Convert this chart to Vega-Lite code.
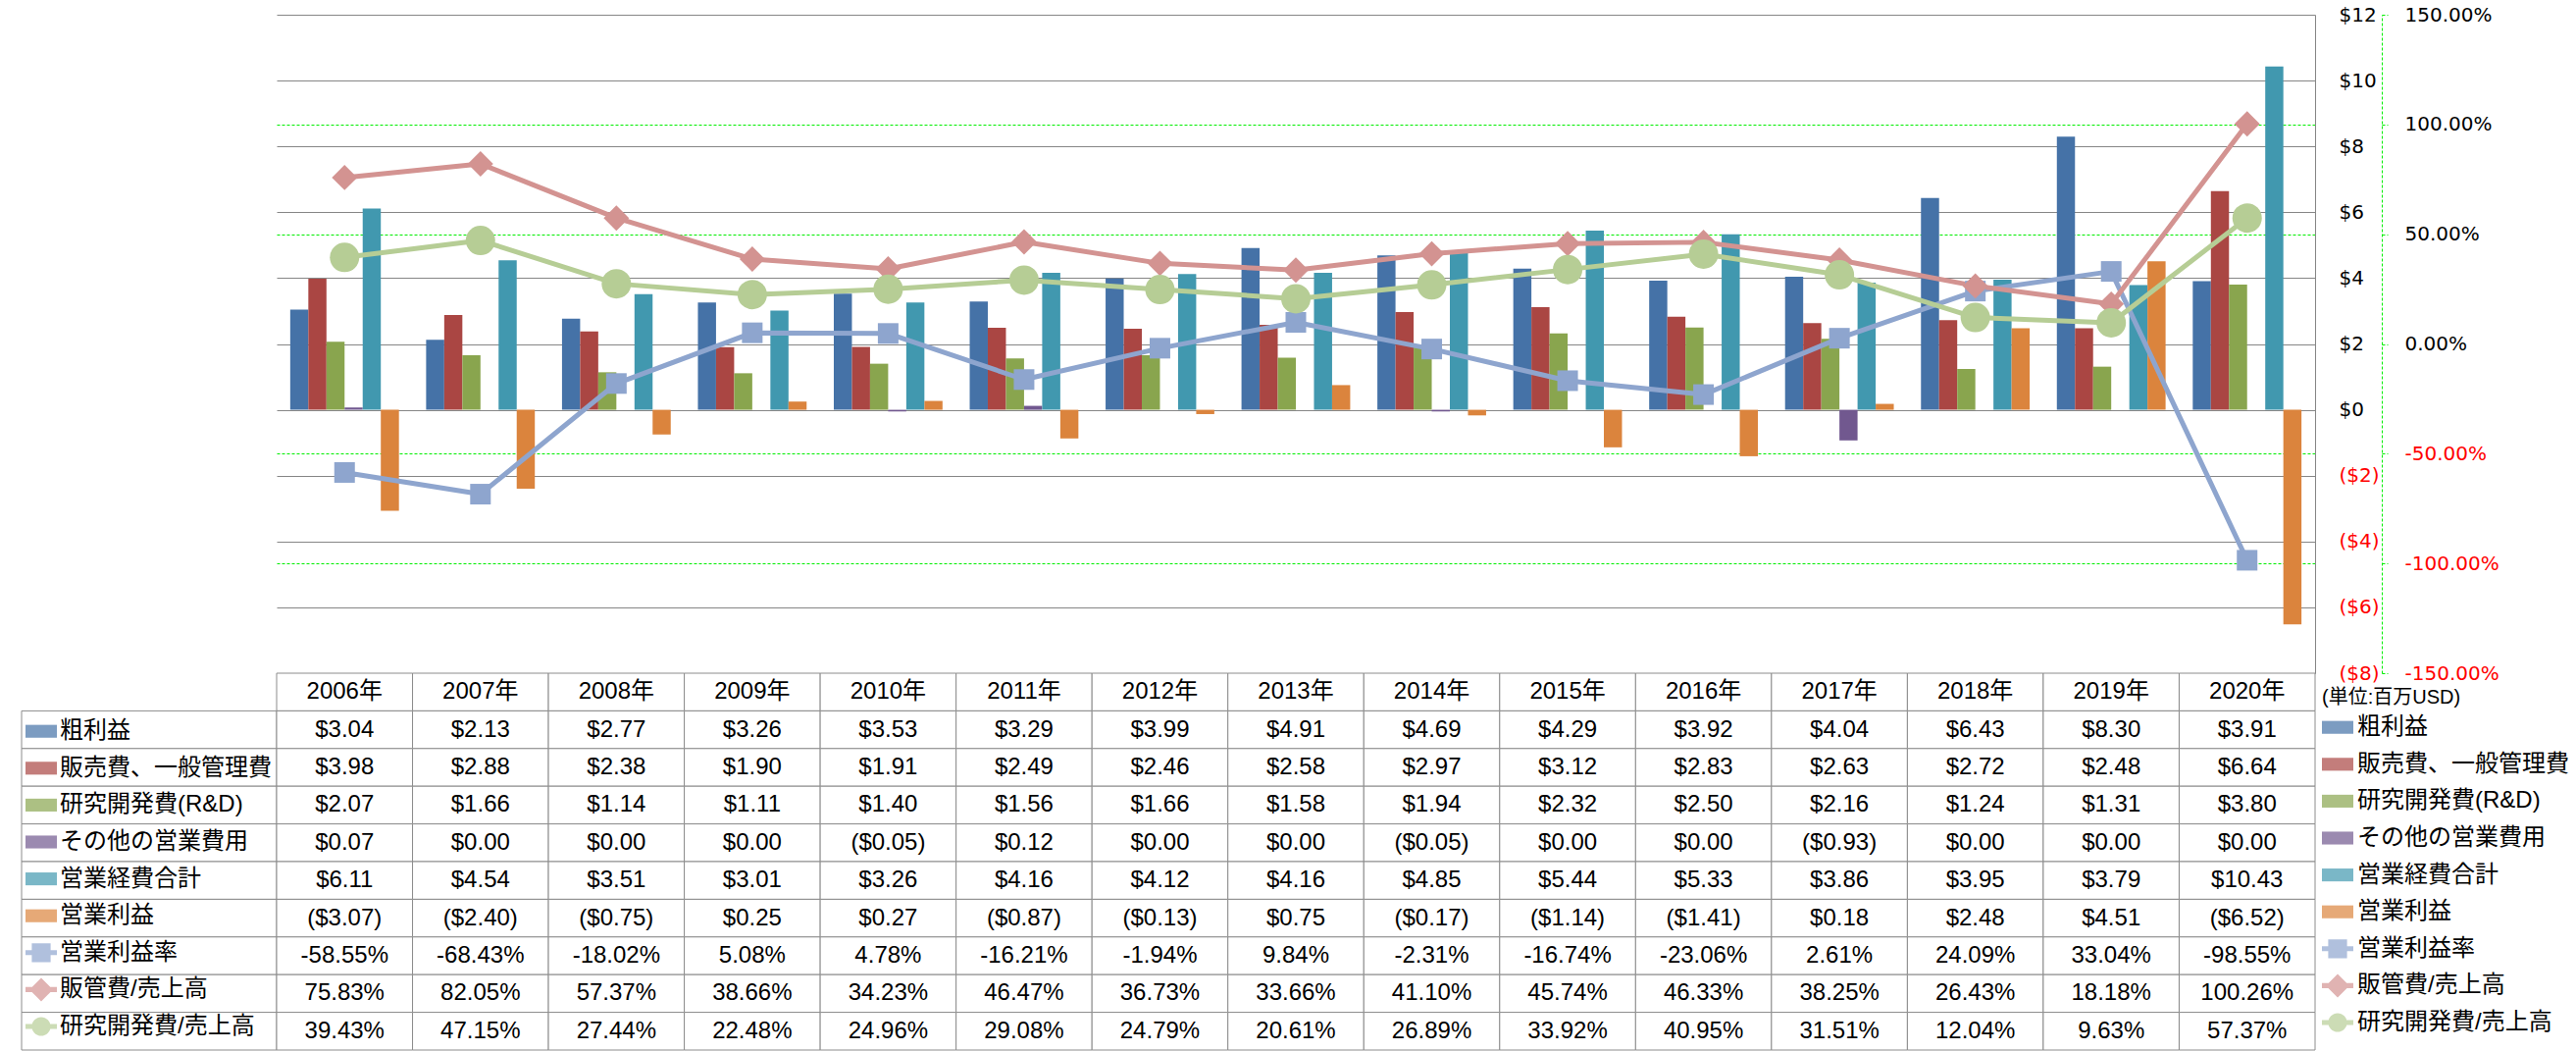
{
  "$schema": "https://vega.github.io/schema/vega-lite/v6.json",
  "background": "white",
  "padding": {"left": 21, "top": 5, "right": 0, "bottom": 0},
  "config": {
    "locale": {"number": {"decimal": ".", "thousands": ",", "grouping": [3], "currency": ["$", ""], "minus": "-"}},
    "view": {"stroke": null},
    "axis": {"labelFont": "DejaVu Sans"}
  },
  "datasets": {
    "yrs": [
      {"year": "2006年", "粗利益": 3.04, "販売費、一般管理費": 3.98, "研究開発費(R&D)": 2.07, "その他の営業費用": 0.07, "営業経費合計": 6.11, "営業利益": -3.07, "営業利益率": -0.5855, "販管費/売上高": 0.7583, "研究開発費/売上高": 0.3943},
      {"year": "2007年", "粗利益": 2.13, "販売費、一般管理費": 2.88, "研究開発費(R&D)": 1.66, "その他の営業費用": 0.00, "営業経費合計": 4.54, "営業利益": -2.40, "営業利益率": -0.6843, "販管費/売上高": 0.8205, "研究開発費/売上高": 0.4715},
      {"year": "2008年", "粗利益": 2.77, "販売費、一般管理費": 2.38, "研究開発費(R&D)": 1.14, "その他の営業費用": 0.00, "営業経費合計": 3.51, "営業利益": -0.75, "営業利益率": -0.1802, "販管費/売上高": 0.5737, "研究開発費/売上高": 0.2744},
      {"year": "2009年", "粗利益": 3.26, "販売費、一般管理費": 1.90, "研究開発費(R&D)": 1.11, "その他の営業費用": 0.00, "営業経費合計": 3.01, "営業利益": 0.25, "営業利益率": 0.0508, "販管費/売上高": 0.3866, "研究開発費/売上高": 0.2248},
      {"year": "2010年", "粗利益": 3.53, "販売費、一般管理費": 1.91, "研究開発費(R&D)": 1.40, "その他の営業費用": -0.05, "営業経費合計": 3.26, "営業利益": 0.27, "営業利益率": 0.0478, "販管費/売上高": 0.3423, "研究開発費/売上高": 0.2496},
      {"year": "2011年", "粗利益": 3.29, "販売費、一般管理費": 2.49, "研究開発費(R&D)": 1.56, "その他の営業費用": 0.12, "営業経費合計": 4.16, "営業利益": -0.87, "営業利益率": -0.1621, "販管費/売上高": 0.4647, "研究開発費/売上高": 0.2908},
      {"year": "2012年", "粗利益": 3.99, "販売費、一般管理費": 2.46, "研究開発費(R&D)": 1.66, "その他の営業費用": 0.00, "営業経費合計": 4.12, "営業利益": -0.13, "営業利益率": -0.0194, "販管費/売上高": 0.3673, "研究開発費/売上高": 0.2479},
      {"year": "2013年", "粗利益": 4.91, "販売費、一般管理費": 2.58, "研究開発費(R&D)": 1.58, "その他の営業費用": 0.00, "営業経費合計": 4.16, "営業利益": 0.75, "営業利益率": 0.0984, "販管費/売上高": 0.3366, "研究開発費/売上高": 0.2061},
      {"year": "2014年", "粗利益": 4.69, "販売費、一般管理費": 2.97, "研究開発費(R&D)": 1.94, "その他の営業費用": -0.05, "営業経費合計": 4.85, "営業利益": -0.17, "営業利益率": -0.0231, "販管費/売上高": 0.4110, "研究開発費/売上高": 0.2689},
      {"year": "2015年", "粗利益": 4.29, "販売費、一般管理費": 3.12, "研究開発費(R&D)": 2.32, "その他の営業費用": 0.00, "営業経費合計": 5.44, "営業利益": -1.14, "営業利益率": -0.1674, "販管費/売上高": 0.4574, "研究開発費/売上高": 0.3392},
      {"year": "2016年", "粗利益": 3.92, "販売費、一般管理費": 2.83, "研究開発費(R&D)": 2.50, "その他の営業費用": 0.00, "営業経費合計": 5.33, "営業利益": -1.41, "営業利益率": -0.2306, "販管費/売上高": 0.4633, "研究開発費/売上高": 0.4095},
      {"year": "2017年", "粗利益": 4.04, "販売費、一般管理費": 2.63, "研究開発費(R&D)": 2.16, "その他の営業費用": -0.93, "営業経費合計": 3.86, "営業利益": 0.18, "営業利益率": 0.0261, "販管費/売上高": 0.3825, "研究開発費/売上高": 0.3151},
      {"year": "2018年", "粗利益": 6.43, "販売費、一般管理費": 2.72, "研究開発費(R&D)": 1.24, "その他の営業費用": 0.00, "営業経費合計": 3.95, "営業利益": 2.48, "営業利益率": 0.2409, "販管費/売上高": 0.2643, "研究開発費/売上高": 0.1204},
      {"year": "2019年", "粗利益": 8.30, "販売費、一般管理費": 2.48, "研究開発費(R&D)": 1.31, "その他の営業費用": 0.00, "営業経費合計": 3.79, "営業利益": 4.51, "営業利益率": 0.3304, "販管費/売上高": 0.1818, "研究開発費/売上高": 0.0963},
      {"year": "2020年", "粗利益": 3.91, "販売費、一般管理費": 6.64, "研究開発費(R&D)": 3.80, "その他の営業費用": 0.00, "営業経費合計": 10.43, "営業利益": -6.52, "営業利益率": -0.9855, "販管費/売上高": 1.0026, "研究開発費/売上高": 0.5737}
    ],
    "series": [
      {"name": "粗利益"}, {"name": "販売費、一般管理費"}, {"name": "研究開発費(R&D)"}, {"name": "その他の営業費用"}, {"name": "営業経費合計"}, {"name": "営業利益"}, {"name": "営業利益率"}, {"name": "販管費/売上高"}, {"name": "研究開発費/売上高"}
    ]
  },
  "columns": 3,
  "spacing": 0,
  "bounds": "flush",
  "align": "each",
  "resolve": {
    "scale": {"color": "independent", "shape": "independent", "size": "independent"},
    "legend": {"color": "independent", "shape": "independent"}
  },
  "concat": [
    {
      "width": 260, "height": 671,
      "data": {"values": []},
      "mark": "point",
      "encoding": {}
    },
    {
      "width": 2078, "height": 671,
      "data": {"name": "yrs"},
      "transform": [{"fold": ["粗利益", "販売費、一般管理費", "研究開発費(R&D)", "その他の営業費用", "営業経費合計", "営業利益", "営業利益率", "販管費/売上高", "研究開発費/売上高"], "as": ["key", "value"]}],
      "layer": [
        {
          "transform": [{"filter": {"field": "key", "oneOf": ["粗利益", "販売費、一般管理費", "研究開発費(R&D)", "その他の営業費用", "営業経費合計", "営業利益"]}}],
          "mark": {"type": "bar"},
          "encoding": {
            "x": {"field": "year", "type": "nominal", "scale": {"type": "band", "paddingInner": 0.2, "paddingOuter": 0.1}, "axis": null},
            "xOffset": {"field": "key", "type": "nominal", "scale": {"domain": ["粗利益", "販売費、一般管理費", "研究開発費(R&D)", "その他の営業費用", "営業経費合計", "営業利益"], "paddingInner": 0, "paddingOuter": 0}},
            "y": {
              "field": "value", "type": "quantitative",
              "scale": {"domain": [-8, 12], "nice": false},
              "axis": {
                "orient": "right", "title": null,
                "values": [-8, -6, -4, -2, 0, 2, 4, 6, 8, 10, 12],
                "format": "($.0f",
                "grid": true, "gridColor": "#868686", "gridWidth": 1,
                "domain": true, "domainColor": "#868686", "domainWidth": 1,
                "ticks": false, "labelPadding": 24,
                "labelFont": "DejaVu Sans", "labelFontSize": 20,
                "labelAlign": "left", "labelBaseline": "middle",
                "labelColor": {"condition": {"test": "datum.value < 0", "value": "#FF0000"}, "value": "#000000"}
              }
            },
            "color": {"field": "key", "type": "nominal", "legend": null,
              "scale": {"domain": ["粗利益", "販売費、一般管理費", "研究開発費(R&D)", "その他の営業費用", "営業経費合計", "営業利益", "営業利益率", "販管費/売上高", "研究開発費/売上高"],
                        "range": ["#4572A7", "#AA4643", "#89A54E", "#71588F", "#4198AF", "#DB843D", "#8EA5CE", "#D39391", "#B6CD95"]}}
          }
        },
        {
          "transform": [{"filter": {"field": "key", "oneOf": ["営業利益率", "販管費/売上高", "研究開発費/売上高"]}}],
          "encoding": {
            "x": {"field": "year", "type": "nominal", "scale": {"type": "band", "paddingInner": 0.2, "paddingOuter": 0.1}, "axis": null},
            "y": {
              "field": "value", "type": "quantitative",
              "scale": {"domain": [-1.5, 1.5], "nice": false},
              "axis": {
                "orient": "right", "offset": 68, "title": null,
                "values": [-1.5, -1, -0.5, 0, 0.5, 1, 1.5],
                "format": ".2%",
                "grid": true, "gridColor": "#00EE00", "gridDash": [3, 2], "gridWidth": 1,
                "gridOpacity": {"condition": {"test": "datum.value == 0 || abs(datum.value) == 1.5", "value": 0}, "value": 1},
                "domain": true, "domainColor": "#00EE00", "domainDash": [3, 2], "domainWidth": 1,
                "ticks": true, "tickColor": "#00EE00", "tickDash": [3, 2], "tickSize": 6, "tickWidth": 1,
                "labelPadding": 17,
                "labelFont": "DejaVu Sans", "labelFontSize": 20,
                "labelAlign": "left", "labelBaseline": "middle",
                "labelColor": {"condition": {"test": "datum.value < 0", "value": "#FF0000"}, "value": "#000000"}
              }
            },
            "color": {"field": "key", "type": "nominal", "legend": null,
              "scale": {"domain": ["粗利益", "販売費、一般管理費", "研究開発費(R&D)", "その他の営業費用", "営業経費合計", "営業利益", "営業利益率", "販管費/売上高", "研究開発費/売上高"],
                        "range": ["#4572A7", "#AA4643", "#89A54E", "#71588F", "#4198AF", "#DB843D", "#8EA5CE", "#D39391", "#B6CD95"]}}
          },
          "layer": [
            {"mark": {"type": "line", "strokeWidth": 5, "strokeJoin": "round"}},
            {
              "mark": {"type": "point", "filled": true, "opacity": 1},
              "encoding": {
                "shape": {"field": "key", "type": "nominal", "legend": null, "scale": {"domain": ["営業利益率", "販管費/売上高", "研究開発費/売上高"], "range": ["square", "diamond", "circle"]}},
                "size": {"field": "key", "type": "ordinal", "legend": null, "scale": {"domain": ["営業利益率", "販管費/売上高", "研究開発費/売上高"], "range": [441, 900, 484]}}
              }
            }
          ]
        }
      ],
      "resolve": {"scale": {"y": "independent"}}
    },
    {
      "width": 267, "height": 671,
      "data": {"values": []},
      "mark": "point",
      "encoding": {}
    },
    {
      "width": 260, "height": 384,
      "data": {"name": "series"},
      "layer": [
        {
          "mark": {"type": "rect", "fill": "white", "stroke": "#8C8C8C", "strokeWidth": 1},
          "encoding": {
            "y": {"field": "name", "type": "nominal", "axis": null,
              "scale": {"type": "band", "paddingInner": 0, "paddingOuter": 0, "domain": ["header", "粗利益", "販売費、一般管理費", "研究開発費(R&D)", "その他の営業費用", "営業経費合計", "営業利益", "営業利益率", "販管費/売上高", "研究開発費/売上高"]}}
          }
        },
        {
          "transform": [{"filter": "false"}],
          "mark": {"type": "point", "filled": true},
          "encoding": {
            "color": {"field": "name", "type": "nominal",
              "scale": {"domain": ["粗利益", "販売費、一般管理費", "研究開発費(R&D)", "その他の営業費用", "営業経費合計", "営業利益", "営業利益率", "販管費/売上高", "研究開発費/売上高"],
                        "range": ["#4572A7", "#AA4643", "#89A54E", "#71588F", "#4198AF", "#DB843D", "#8EA5CE", "#D39391", "#B6CD95"]},
              "legend": {"orient": "none", "legendX": 4, "legendY": 43.2, "title": null, "padding": 0, "symbolSize": 1024, "symbolStrokeWidth": 0, "labelFont": "Liberation Sans, Noto Sans CJK JP", "labelFontSize": 24, "labelColor": "#000000", "labelOffset": 3, "labelLimit": 600, "rowPadding": 9.6, "direction": "vertical", "columns": 1}},
            "shape": {"field": "name", "type": "nominal",
              "scale": {"domain": ["粗利益", "販売費、一般管理費", "研究開発費(R&D)", "その他の営業費用", "営業経費合計", "営業利益", "営業利益率", "販管費/売上高", "研究開発費/売上高"],
                        "range": ["M-1,-0.41H1V0.41H-1Z", "M-1,-0.41H1V0.41H-1Z", "M-1,-0.41H1V0.41H-1Z", "M-1,-0.41H1V0.41H-1Z", "M-1,-0.41H1V0.41H-1Z", "M-1,-0.41H1V0.41H-1Z",
                                  "M-1,-0.16H1V0.16H-1Z M-0.6,-0.6H0.6V0.6H-0.6Z",
                                  "M-1,-0.16H1V0.16H-1Z M0,-0.75L0.75,0L0,0.75L-0.75,0Z",
                                  "M-1,-0.16H1V0.16H-1Z M-0.6,0A0.6,0.6 0 1,1 0.6,0A0.6,0.6 0 1,1 -0.6,0Z"]},
              "legend": {"orient": "none", "legendX": 4, "legendY": 43.2, "title": null, "padding": 0, "symbolSize": 1024, "symbolStrokeWidth": 0, "labelFont": "Liberation Sans, Noto Sans CJK JP", "labelFontSize": 24, "labelColor": "#000000", "labelOffset": 3, "labelLimit": 600, "rowPadding": 9.6, "direction": "vertical", "columns": 1}}
          }
        }
      ]
    },
    {
      "width": 2078, "height": 384,
      "data": {"name": "yrs"},
      "layer": [
        {
          "mark": {"type": "rect", "fill": "white", "stroke": "#8C8C8C", "strokeWidth": 1},
          "encoding": {
            "x": {"field": "year", "type": "nominal", "axis": null, "scale": {"type": "band", "paddingInner": 0, "paddingOuter": 0}},
            "y": {"datum": "header", "type": "nominal", "axis": null,
              "scale": {"type": "band", "paddingInner": 0, "paddingOuter": 0, "domain": ["header", "粗利益", "販売費、一般管理費", "研究開発費(R&D)", "その他の営業費用", "営業経費合計", "営業利益", "営業利益率", "販管費/売上高", "研究開発費/売上高"]}}
          }
        },
        {
          "mark": {"type": "text", "font": "Liberation Sans, Noto Sans CJK JP", "fontSize": 24, "color": "#000000"},
          "encoding": {
            "x": {"field": "year", "type": "nominal", "axis": null},
            "y": {"datum": "header", "type": "nominal", "axis": null},
            "text": {"field": "year"}
          }
        },
        {
          "transform": [{"fold": ["粗利益", "販売費、一般管理費", "研究開発費(R&D)", "その他の営業費用", "営業経費合計", "営業利益", "営業利益率", "販管費/売上高", "研究開発費/売上高"], "as": ["key", "value"]}],
          "layer": [
            {
              "mark": {"type": "rect", "fill": "white", "stroke": "#8C8C8C", "strokeWidth": 1},
              "encoding": {
                "x": {"field": "year", "type": "nominal", "axis": null},
                "y": {"field": "key", "type": "nominal", "axis": null}
              }
            },
            {
              "transform": [{"filter": {"field": "key", "oneOf": ["粗利益", "販売費、一般管理費", "研究開発費(R&D)", "その他の営業費用", "営業経費合計", "営業利益"]}}],
              "mark": {"type": "text", "font": "Liberation Sans, Noto Sans CJK JP", "fontSize": 24, "color": "#000000"},
              "encoding": {
                "x": {"field": "year", "type": "nominal", "axis": null},
                "y": {"field": "key", "type": "nominal", "axis": null},
                "text": {"field": "value", "type": "quantitative", "format": "($.2f"}
              }
            },
            {
              "transform": [{"filter": {"field": "key", "oneOf": ["営業利益率", "販管費/売上高", "研究開発費/売上高"]}}],
              "mark": {"type": "text", "font": "Liberation Sans, Noto Sans CJK JP", "fontSize": 24, "color": "#000000"},
              "encoding": {
                "x": {"field": "year", "type": "nominal", "axis": null},
                "y": {"field": "key", "type": "nominal", "axis": null},
                "text": {"field": "value", "type": "quantitative", "format": ".2%"}
              }
            }
          ]
        }
      ]
    },
    {
      "width": 267, "height": 384,
      "data": {"name": "series"},
      "transform": [{"filter": "false"}],
      "mark": {"type": "point", "filled": true},
      "encoding": {
        "color": {"field": "name", "type": "nominal",
          "scale": {"domain": ["粗利益", "販売費、一般管理費", "研究開発費(R&D)", "その他の営業費用", "営業経費合計", "営業利益", "営業利益率", "販管費/売上高", "研究開発費/売上高"],
                    "range": ["#4572A7", "#AA4643", "#89A54E", "#71588F", "#4198AF", "#DB843D", "#8EA5CE", "#D39391", "#B6CD95"]},
          "legend": {"orient": "none", "legendX": 7, "legendY": 15.2, "title": "(単位:百万USD)", "titleFont": "Liberation Sans, Noto Sans CJK JP", "titleFontSize": 20, "titleFontWeight": "normal", "titleColor": "#000000", "titlePadding": 4, "titleLimit": 600, "padding": 0, "symbolSize": 1024, "symbolStrokeWidth": 0, "labelFont": "Liberation Sans, Noto Sans CJK JP", "labelFontSize": 24, "labelColor": "#000000", "labelOffset": 4, "labelLimit": 600, "rowPadding": 9.6, "direction": "vertical", "columns": 1}},
        "shape": {"field": "name", "type": "nominal",
          "scale": {"domain": ["粗利益", "販売費、一般管理費", "研究開発費(R&D)", "その他の営業費用", "営業経費合計", "営業利益", "営業利益率", "販管費/売上高", "研究開発費/売上高"],
                    "range": ["M-1,-0.41H1V0.41H-1Z", "M-1,-0.41H1V0.41H-1Z", "M-1,-0.41H1V0.41H-1Z", "M-1,-0.41H1V0.41H-1Z", "M-1,-0.41H1V0.41H-1Z", "M-1,-0.41H1V0.41H-1Z",
                              "M-1,-0.16H1V0.16H-1Z M-0.6,-0.6H0.6V0.6H-0.6Z",
                              "M-1,-0.16H1V0.16H-1Z M0,-0.75L0.75,0L0,0.75L-0.75,0Z",
                              "M-1,-0.16H1V0.16H-1Z M-0.6,0A0.6,0.6 0 1,1 0.6,0A0.6,0.6 0 1,1 -0.6,0Z"]},
          "legend": {"orient": "none", "legendX": 7, "legendY": 15.2, "title": "(単位:百万USD)", "titleFont": "Liberation Sans, Noto Sans CJK JP", "titleFontSize": 20, "titleFontWeight": "normal", "titleColor": "#000000", "titlePadding": 4, "titleLimit": 600, "padding": 0, "symbolSize": 1024, "symbolStrokeWidth": 0, "labelFont": "Liberation Sans, Noto Sans CJK JP", "labelFontSize": 24, "labelColor": "#000000", "labelOffset": 4, "labelLimit": 600, "rowPadding": 9.6, "direction": "vertical", "columns": 1}}
      }
    }
  ]
}
